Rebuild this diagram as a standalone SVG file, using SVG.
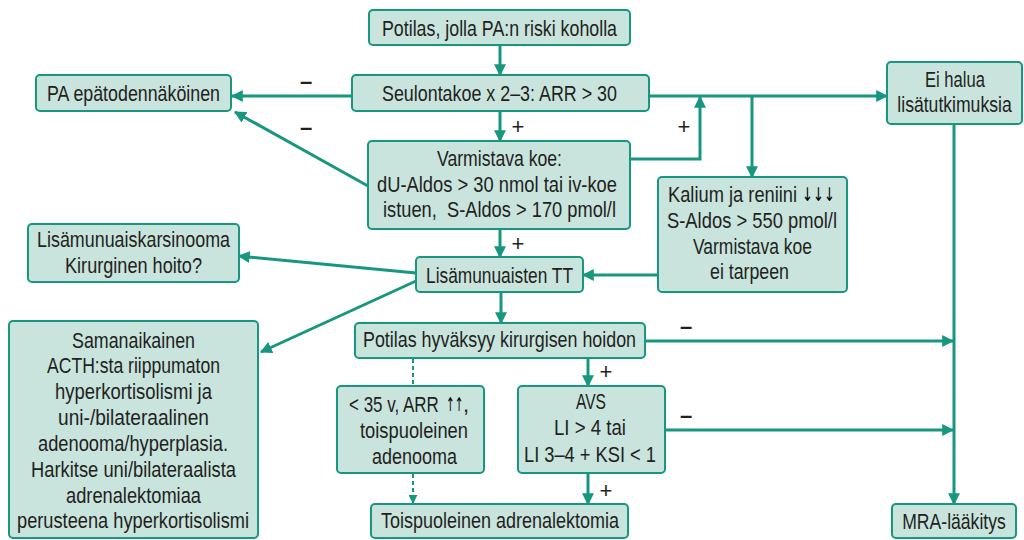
<svg xmlns="http://www.w3.org/2000/svg" width="1024" height="540" viewBox="0 0 1024 540">
<style>
.box{fill:#c8e4dd;stroke:#17977f;stroke-width:2}
.t{font-family:"Liberation Sans",Arial,sans-serif;font-size:22px;fill:#231f20;white-space:pre}
.tc{font-family:"Liberation Sans",Arial,sans-serif;font-size:22px;fill:#231f20;text-anchor:middle}
.ar{font-family:"DejaVu Sans",sans-serif;font-size:19px;fill:#000000}
.s{font-family:"Liberation Sans",Arial,sans-serif;font-size:22px;fill:#231f20;text-anchor:middle}
.m{font-family:"Liberation Sans",Arial,sans-serif;font-size:22px;font-weight:bold;fill:#231f20;text-anchor:middle}
.c{fill:none;stroke:#17977f;stroke-width:3;marker-end:url(#ah)}
.d{fill:none;stroke:#17977f;stroke-width:2;stroke-dasharray:4 3}
</style>
<defs>
<marker id="ah" markerUnits="userSpaceOnUse" markerWidth="12" markerHeight="12" viewBox="0 0 10 10" refX="9" refY="5" orient="auto"><path d="M0,0 L10,5 L0,10 z" fill="#17977f"/></marker>
<marker id="ahs" markerUnits="userSpaceOnUse" markerWidth="9" markerHeight="9" viewBox="0 0 10 10" refX="9" refY="5" orient="auto"><path d="M0,0 L10,5 L0,10 z" fill="#17977f"/></marker>
</defs>
<g id="connectors">
<path class="c" d="M500,45 V75"/>
<path class="c" d="M352,96 H232"/>
<path class="c" d="M368,186 L235,112"/>
<path class="c" d="M500,111 V141"/>
<path class="c" d="M630,159 H700 V97"/>
<path class="c" d="M649,96 H887"/>
<path class="c" d="M752,96 V177"/>
<path class="c" d="M500,229 V257"/>
<path class="c" d="M658,275 H583"/>
<path class="c" d="M416,273 L239,256"/>
<path class="c" d="M416,281 L261,352"/>
<path class="c" d="M501,292 V323"/>
<path class="c" d="M645,341 H953"/>
<path class="c" d="M954,124 V504"/>
<path class="c" d="M588,358 V386"/>
<path class="c" d="M665,430 H953"/>
<path class="c" d="M588,473 V504"/>
<path class="d" d="M413,359 V386"/>
<path class="d" d="M413,474 V503" marker-end="url(#ahs)"/>
<text class="m" x="306" y="89">–</text>
<text class="m" x="306" y="135">–</text>
<text class="s" x="518" y="134">+</text>
<text class="s" x="684" y="134">+</text>
<text class="s" x="518" y="251">+</text>
<text class="s" x="606" y="379">+</text>
<text class="s" x="606" y="498">+</text>
<text class="m" x="686" y="334">–</text>
<text class="m" x="686" y="423">–</text>
</g>
<g id="n-start"><rect class="box" x="369" y="10" width="261" height="35" rx="4"/>
<text class="t" x="382" y="36" textLength="235" lengthAdjust="spacingAndGlyphs">Potilas, jolla PA:n riski koholla</text></g>
<g id="n-seulonta"><rect class="box" x="352" y="75" width="297" height="36" rx="4"/>
<text class="t" x="382" y="101" textLength="235" lengthAdjust="spacingAndGlyphs">Seulontakoe x 2–3: ARR &gt; 30</text></g>
<g id="n-pa"><rect class="box" x="36" y="75" width="195" height="36" rx="4"/>
<text class="t" x="47" y="101" textLength="173" lengthAdjust="spacingAndGlyphs">PA epätodennäköinen</text></g>
<g id="n-varm"><rect class="box" x="368" y="141" width="262" height="88" rx="4"/>
<text class="t" x="437" y="166" textLength="125" lengthAdjust="spacingAndGlyphs">Varmistava koe:</text>
<text class="t" x="377" y="192" textLength="240" lengthAdjust="spacingAndGlyphs">dU-Aldos &gt; 30 nmol tai iv-koe</text>
<text class="t" x="383" y="217" textLength="233" lengthAdjust="spacingAndGlyphs">istuen,  S-Aldos &gt; 170 pmol/l</text></g>
<g id="n-eihalua"><rect class="box" x="887" y="62" width="135" height="62" rx="4"/>
<text class="t" x="925" y="87" textLength="60" lengthAdjust="spacingAndGlyphs">Ei halua</text>
<text class="tc" transform="translate(954.5,112) scale(0.8,1)">lisätutkimuksia</text></g>
<g id="n-kalium"><rect class="box" x="658" y="177" width="189" height="115" rx="4"/>
<text class="t" transform="translate(668,202) scale(0.832,1)">Kalium ja reniini</text>
<text class="ar" transform="translate(802,201) scale(0.69,1)">↓↓↓</text>
<text class="t" x="667" y="228" textLength="170" lengthAdjust="spacingAndGlyphs">S-Aldos &gt; 550 pmol/l</text>
<text class="t" x="693" y="254" textLength="119" lengthAdjust="spacingAndGlyphs">Varmistava koe</text>
<text class="t" x="710" y="279" textLength="79" lengthAdjust="spacingAndGlyphs">ei tarpeen</text></g>
<g id="n-tt"><rect class="box" x="416" y="257" width="167" height="35" rx="4"/>
<text class="t" x="426" y="283" textLength="147" lengthAdjust="spacingAndGlyphs">Lisämunuaisten TT</text></g>
<g id="n-karsinooma"><rect class="box" x="28" y="224" width="211" height="58" rx="4"/>
<text class="t" x="37" y="247" textLength="193" lengthAdjust="spacingAndGlyphs">Lisämunuaiskarsinooma</text>
<text class="t" x="65" y="273" textLength="137" lengthAdjust="spacingAndGlyphs">Kirurginen hoito?</text></g>
<g id="n-samanaikainen"><rect class="box" x="9" y="321" width="249" height="217" rx="4"/>
<text class="t" x="72" y="348" textLength="123" lengthAdjust="spacingAndGlyphs">Samanaikainen</text>
<text class="t" x="47" y="373" textLength="173" lengthAdjust="spacingAndGlyphs">ACTH:sta riippumaton</text>
<text class="t" x="55" y="399" textLength="157" lengthAdjust="spacingAndGlyphs">hyperkortisolismi ja</text>
<text class="t" x="58" y="425" textLength="151" lengthAdjust="spacingAndGlyphs">uni-/bilateraalinen</text>
<text class="t" x="38" y="451" textLength="190" lengthAdjust="spacingAndGlyphs">adenooma/hyperplasia.</text>
<text class="t" x="31" y="477" textLength="205" lengthAdjust="spacingAndGlyphs">Harkitse uni/bilateraalista</text>
<text class="t" x="66" y="503" textLength="135" lengthAdjust="spacingAndGlyphs">adrenalektomiaa</text>
<text class="t" x="17" y="528" textLength="232" lengthAdjust="spacingAndGlyphs">perusteena hyperkortisolismi</text></g>
<g id="n-potilas"><rect class="box" x="355" y="323" width="290" height="35" rx="4"/>
<text class="t" transform="translate(363,347) scale(0.8125,1)">Potilas hyväksyy kirurgisen hoidon</text></g>
<g id="n-alle35"><rect class="box" x="337" y="386" width="147" height="87" rx="4"/>
<text class="t" transform="translate(349,412) scale(0.772,1)">&lt; 35 v, ARR</text>
<text class="ar" transform="translate(446,411) scale(0.55,1)">↑↑</text>
<text class="t" x="463" y="412">,</text>
<text class="t" x="360" y="438" textLength="108" lengthAdjust="spacingAndGlyphs">toispuoleinen</text>
<text class="t" x="372" y="464" textLength="85" lengthAdjust="spacingAndGlyphs">adenooma</text></g>
<g id="n-avs"><rect class="box" x="518" y="386" width="147" height="87" rx="4"/>
<text class="t" x="576" y="409" textLength="30" lengthAdjust="spacingAndGlyphs">AVS</text>
<text class="t" x="554" y="435" textLength="72" lengthAdjust="spacingAndGlyphs">LI &gt; 4 tai</text>
<text class="t" x="524" y="462" textLength="132" lengthAdjust="spacingAndGlyphs">LI 3–4 + KSI &lt; 1</text></g>
<g id="n-adrenalektomia"><rect class="box" x="371" y="504" width="257" height="34" rx="4"/>
<text class="t" x="381" y="528" textLength="238" lengthAdjust="spacingAndGlyphs">Toispuoleinen adrenalektomia</text></g>
<g id="n-mra"><rect class="box" x="892" y="504" width="124" height="34" rx="4"/>
<text class="tc" transform="translate(954,529) scale(0.8,1)">MRA-lääkitys</text></g>
</svg>
